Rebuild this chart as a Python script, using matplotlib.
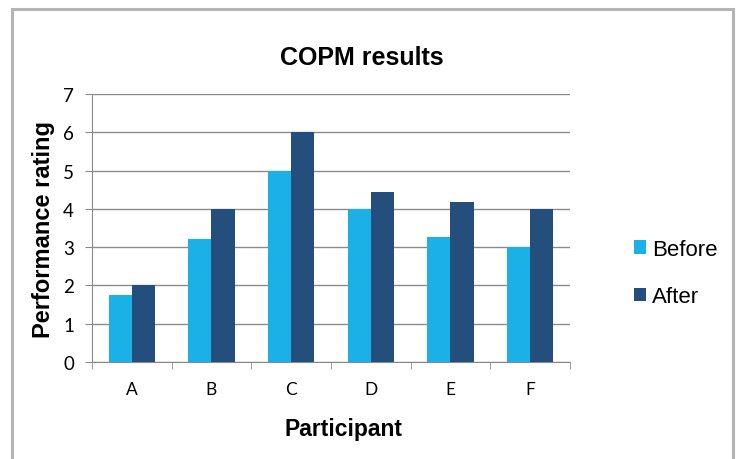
import matplotlib
matplotlib.use("Agg")
import matplotlib.pyplot as plt
import numpy as np
from matplotlib.patches import Rectangle

participants = ["A", "B", "C", "D", "E", "F"]
before = [1.75, 3.2, 5.0, 4.0, 3.27, 3.0]
after = [2.0, 4.0, 6.0, 4.45, 4.18, 4.0]
yticks = [0, 1, 2, 3, 4, 5, 6, 7]

c_before = "#1bb0e6"
c_after = "#244f7d"

fig = plt.figure(figsize=(7.38, 4.6), dpi=100)
fig.patch.set_facecolor("white")
fig.patches.append(Rectangle((12/738, -0.1), 721/738, 1.1 - 10/460, transform=fig.transFigure,
                             fill=False, edgecolor="#b4b4b4", linewidth=2.2, clip_on=False))

ax = fig.add_axes([92/738, 1 - 363/460, (570 - 92)/738, (363 - 95)/460])
x = np.arange(len(participants))
w = 0.29
ax.bar(x - w/2, before, w, color=c_before, label="Before", zorder=3)
ax.bar(x + w/2, after, w, color=c_after, label="After", zorder=3)

ax.set_xlim(-0.5, len(participants) - 0.5)
ax.set_ylim(0, 7)
ax.set_yticks(yticks)
ax.yaxis.grid(True, color="#8a8a8a", linewidth=1.0, zorder=0)
ax.set_axisbelow(True)
for s in ["top", "right"]:
    ax.spines[s].set_visible(False)
ax.spines["left"].set_color("#8a8a8a")
ax.spines["bottom"].set_color("#8a8a8a")
ax.tick_params(axis="y", length=5, color="#8a8a8a", labelsize=13.5, pad=8)
ax.set_xticks(x)
ax.set_xticklabels(participants)
ax.tick_params(axis="x", length=0, labelsize=12.5, pad=14)
ax.set_xticks(np.arange(-0.5, len(participants)), minor=True)
ax.tick_params(axis="x", which="minor", length=5, color="#8a8a8a")
for lab in ax.get_xticklabels() + ax.get_yticklabels():
    lab.set_family(["Lato", "DejaVu Sans"])

fig.text(362/738, 1 - 58/460, "COPM results", fontsize=18, fontweight="bold",
         family="Liberation Sans", ha="center", va="center")
fig.text(343/738, 1 - 430/460, "Participant", fontsize=16.5, fontweight="bold",
         family="Liberation Sans", ha="center", va="center")
ax.set_ylabel("Performance rating", fontsize=17, fontweight="bold", family="Liberation Sans", labelpad=6)

leg = fig.legend(loc="center left", bbox_to_anchor=(614/738, 1 - 274/460), frameon=False,
                 handlelength=0.55, handleheight=0.55, handletextpad=0.25, labelspacing=1.2,
                 prop={"family": "Liberation Sans", "size": 16})

fig.savefig("out.png", dpi=100)
